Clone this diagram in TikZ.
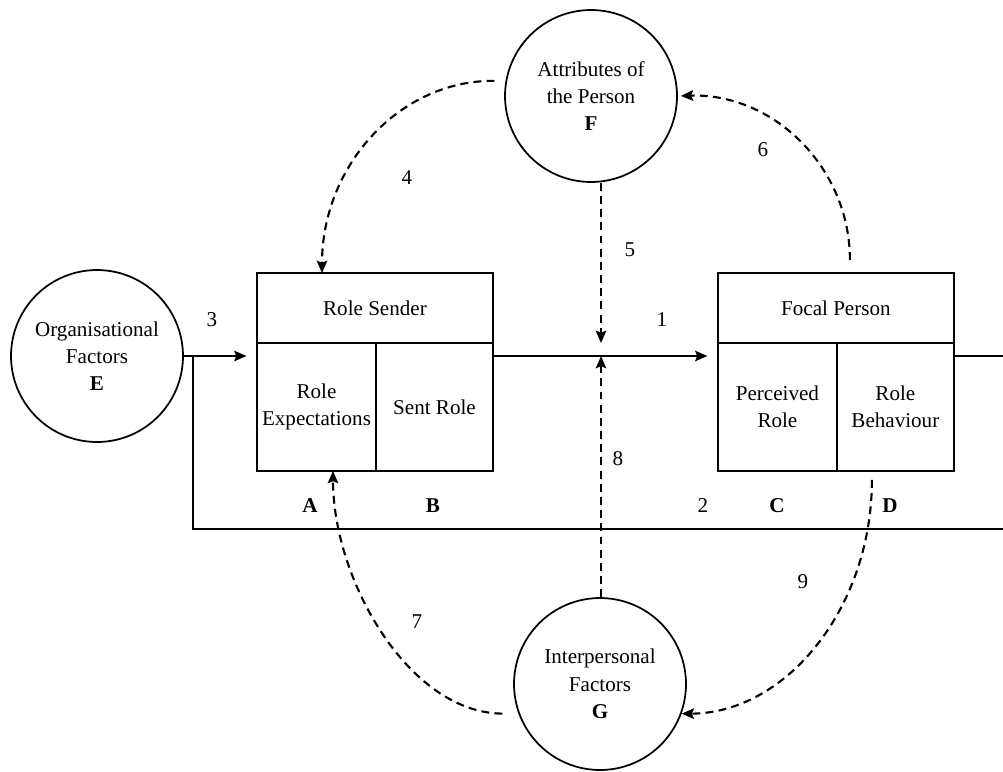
\documentclass[tikz,border=0pt]{standalone}
\usepackage{fontspec}
\setmainfont{Liberation Serif}
\usetikzlibrary{arrows.meta,positioning,calc}

\begin{document}
\begin{tikzpicture}[x=0.02cm,y=-0.02cm,>={Stealth[length=7pt,width=6pt,inset=1.2pt]},line width=1pt,
  font=\fontsize{12}{15.5}\selectfont,
  factor/.style={circle,draw,align=center,minimum size=3.44cm,inner sep=0pt},
  head/.style={draw,minimum width=4.72cm,minimum height=1.4cm,inner sep=1pt,outer sep=0pt},
  cell/.style={draw,align=center,minimum height=2.56cm,inner sep=1pt,outer sep=0pt},
  link/.style={->,shorten >=0.21cm},
  hint/.style={->,line width=1.2pt,dash pattern=on 4.5pt off 3pt},
  letter/.style={font=\fontsize{12}{15.5}\selectfont\bfseries}]
  \useasboundingbox (0,0) rectangle (1003,771);

  % the three circles
  \node [factor] (E) at (97,356) {Organisational\\Factors\\\textbf{E}};
  \node [factor] (F) at (591,96) {Attributes of\\the Person\\\textbf{F}};
  \node [factor] (G) at (600,684) {Interpersonal\\Factors\\\textbf{G}};

  % role sender and focal person
  \node [head, anchor=north west] (RS) at (257,273) {Role Sender};
  \node [cell, minimum width=2.38cm, anchor=north west] (RE) at (RS.south west) {Role\\Expectations};
  \node [cell, minimum width=2.34cm, anchor=north east] (SR) at (RS.south east) {Sent Role};
  \node [head, right=4.5cm of RS] (FP) {Focal Person};
  \node [cell, minimum width=2.38cm, anchor=north west] (PR) at (FP.south west) {Perceived\\Role};
  \node [cell, minimum width=2.34cm, anchor=north east] (RB) at (FP.south east) {Role\\Behaviour};

  \coordinate (mid) at (601,356);
  \coordinate (tap) at (193,356);
  \coordinate (edgeR) at (1003,529);

  % solid lines
  \draw [link] (E.east) -- (RE.west |- E.east);
  \draw [link] (SR.east |- mid) -- (PR.west |- mid);
  \draw (RB.east |- mid) -- (mid -| edgeR);
  \draw (tap) |- (edgeR);

  % dashed influences
  \draw [hint, shorten <=0.22cm] (F.170) .. controls (400,80) and (322,165) .. ($(RS.north west)+(65,0)$);
  \draw [hint, shorten >=0.26cm] (F.south -| mid) -- (mid);
  \draw [hint, shorten <=0.26cm, shorten >=0.06cm] ($(FP.north west)+(132,0)$) .. controls (850,168) and (774,93) .. (F.east);
  \draw [hint, shorten <=0.32cm] (G.200) .. controls (409,713) and (333,580) .. ($(RE.south west)+(76,0)$);
  \draw [hint] (G.north -| mid) -- (mid);
  \draw [hint, shorten <=0.18cm] ($(RB.south west)+(35,0)$) .. controls (872,607) and (787,713) .. (G.-20);

  % numbers and letters
  \node (n1) at (662,320) {1};
  \node (n2) at (703,506) {2};
  \node (n3) at (212,320) {3};
  \node (n4) at (407,178) {4};
  \node (n5) at (630,250) {5};
  \node (n6) at (763,150) {6};
  \node (n7) at (417,622) {7};
  \node (n8) at (618,459) {8};
  \node (n9) at (803,582) {9};
  \node [letter] (A) at (310,506) {A};
  \node [letter] (B) at (433,506) {B};
  \node [letter] (C) at (777,506) {C};
  \node [letter] (D) at (890,506) {D};
\end{tikzpicture}
\end{document}
